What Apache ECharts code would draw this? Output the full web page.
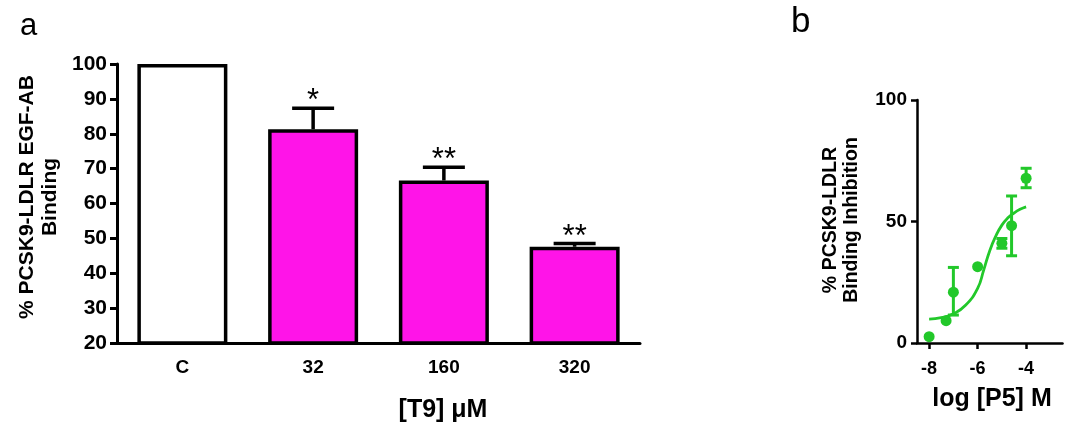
<!DOCTYPE html>
<html>
<head>
<meta charset="utf-8">
<script src="https://cdn.jsdelivr.net/npm/echarts@6/dist/echarts.min.js"></script>
<style>
html,body{margin:0;padding:0;background:#fff;}
#c{width:1072px;height:429px;}
</style>
</head>
<body>
<div id="c"></div>
<script>
// Panel a data
const categories = ['C', '32', '160', '320'];
const bindingValues = [100, 81.3, 66.6, 47.6];
const bindingUpper = [null, 87.3, 70.4, 48.5];
const sigLabels = ['', '*', '**', '**'];
const yTicksA = [20, 100, 10]; // min, max, interval

// Panel b data
const logConc = [-8, -7.3, -7, -6, -5, -4.6, -4];
const inhibition = [2.6, 9.2, 20.9, 31.4, 41.0, 48.3, 67.8];
const inhibLow = [2.6, 9.2, 11.5, 31.4, 39.0, 35.9, 63.9];
const inhibHigh = [2.6, 9.2, 31.1, 31.4, 43.0, 60.5, 71.9];
const curveX = [-8, -7.5, -7, -6.5, -6, -5.75, -5.5, -5.25, -5, -4.75, -4.5, -4.25, -4];
const curveY = [9.8, 10.4, 12, 15.5, 22.5, 30, 38, 44, 48.5, 51.5, 53.5, 55, 56];
const xTicksB = [-8, -6, -4];

const FONT = 'Liberation Sans, Arial, sans-serif';
const magenta = '#ff14e8';
const green = '#22c82a';

const chart = echarts.init(document.getElementById('c'), null, {renderer: 'canvas'});

const option = {
  backgroundColor: '#fff',
  animation: false,
  grid: [
    {left: 117, top: 64, width: 523, height: 279, outerBoundsMode: 'none', containLabel: false},
    {left: 917, top: 100, width: 145.5, height: 243, outerBoundsMode: 'none', containLabel: false}
  ],
  xAxis: [
    {
      type: 'category', gridIndex: 0, data: categories,
      axisLine: {lineStyle: {color: '#000', width: 3}},
      axisTick: {alignWithLabel: true, length: 7, lineStyle: {color: '#000', width: 3}},
      axisLabel: {color: '#000', fontFamily: FONT, fontWeight: 'bold', fontSize: 19, margin: 15},
      splitLine: {show: false}
    },
    {
      type: 'value', gridIndex: 1, min: -8.5, max: -2.5,
      axisLine: {onZero: false, lineStyle: {color: '#000', width: 2.5}},
      axisTick: {customValues: xTicksB, length: 6, lineStyle: {color: '#000', width: 2.5}},
      axisLabel: {customValues: xTicksB, color: '#000', fontFamily: FONT, fontWeight: 'bold', fontSize: 18, margin: 17},
      splitLine: {show: false}
    }
  ],
  yAxis: [
    {
      type: 'value', gridIndex: 0, min: yTicksA[0], max: yTicksA[1], interval: yTicksA[2],
      axisLine: {show: true, lineStyle: {color: '#000', width: 3}},
      axisTick: {show: true, length: 7, lineStyle: {color: '#000', width: 3}},
      axisLabel: {color: '#000', fontFamily: FONT, fontWeight: 'bold', fontSize: 21, margin: 10},
      splitLine: {show: false}
    },
    {
      type: 'value', gridIndex: 1, min: 0, max: 100, interval: 50,
      axisLine: {show: true, onZero: false, lineStyle: {color: '#000', width: 2.5}},
      axisTick: {show: true, length: 6, lineStyle: {color: '#000', width: 2.5}},
      axisLabel: {color: '#000', fontFamily: FONT, fontWeight: 'bold', fontSize: 19, margin: 10},
      splitLine: {show: false}
    }
  ],
  series: [
    {
      type: 'bar', xAxisIndex: 0, yAxisIndex: 0, barWidth: 90,
      data: bindingValues.map((v, i) => ({
        value: v,
        itemStyle: {color: i === 0 ? '#fff' : magenta, borderColor: '#000', borderWidth: 3.5}
      })),
      z: 2
    },
    {
      type: 'custom', xAxisIndex: 0, yAxisIndex: 0, z: 3,
      data: bindingValues.map((v, i) => [i, v, bindingUpper[i] == null ? v : bindingUpper[i]]),
      renderItem: function (params, api) {
        const i = api.value(0);
        const top = api.coord([i, api.value(1)]);
        const up = api.coord([i, api.value(2)]);
        const label = sigLabels[i];
        const children = [];
        if (up[1] < top[1] - 0.5) {
          children.push({type: 'line', shape: {x1: top[0], y1: top[1], x2: up[0], y2: up[1]}, style: {stroke: '#000', lineWidth: 3.5}});
        }
        if (bindingUpper[i] != null) {
          children.push({type: 'line', shape: {x1: up[0] - 21, y1: up[1], x2: up[0] + 21, y2: up[1]}, style: {stroke: '#000', lineWidth: 3.5}});
        }
        if (label) {
          children.push({type: 'text', style: {text: label, x: up[0], y: up[1] + 9, align: 'center', verticalAlign: 'bottom', fontFamily: FONT, fontSize: 31, fill: '#000'}});
        }
        return {type: 'group', children: children};
      }
    },
    {
      type: 'line', xAxisIndex: 1, yAxisIndex: 1, smooth: true, showSymbol: false, symbol: 'none',
      data: curveX.map((x, i) => [x, curveY[i]]),
      lineStyle: {color: green, width: 2.8}, z: 2
    },
    {
      type: 'custom', xAxisIndex: 1, yAxisIndex: 1, z: 3,
      data: logConc.map((x, i) => [x, inhibition[i], inhibLow[i], inhibHigh[i]]),
      renderItem: function (params, api) {
        const c = api.coord([api.value(0), api.value(1)]);
        const lo = api.coord([api.value(0), api.value(2)]);
        const hi = api.coord([api.value(0), api.value(3)]);
        const children = [];
        if (lo[1] - hi[1] > 1) {
          const st = {stroke: green, lineWidth: 3};
          children.push({type: 'line', shape: {x1: c[0], y1: lo[1], x2: c[0], y2: hi[1]}, style: st});
          children.push({type: 'line', shape: {x1: c[0] - 5.5, y1: lo[1], x2: c[0] + 5.5, y2: lo[1]}, style: st});
          children.push({type: 'line', shape: {x1: c[0] - 5.5, y1: hi[1], x2: c[0] + 5.5, y2: hi[1]}, style: st});
        }
        children.push({type: 'circle', shape: {cx: c[0], cy: c[1], r: 5.5}, style: {fill: green}});
        return {type: 'group', children: children};
      }
    }
  ],
  graphic: [
    {type: 'text', left: 20, top: 11, style: {text: 'a', fontFamily: FONT, fontSize: 31, fill: '#000'}},
    {type: 'text', left: 791, top: 5, style: {text: 'b', fontFamily: FONT, fontSize: 35, fill: '#000'}},
    {type: 'text', x: 27, y: 197, rotation: Math.PI / 2,
      style: {text: '% PCSK9-LDLR EGF-AB', align: 'center', verticalAlign: 'middle', fontFamily: FONT, fontWeight: 'bold', fontSize: 21, fill: '#000'}},
    {type: 'text', x: 50, y: 197, rotation: Math.PI / 2,
      style: {text: 'Binding', align: 'center', verticalAlign: 'middle', fontFamily: FONT, fontWeight: 'bold', fontSize: 21, fill: '#000'}},
    {type: 'text', x: 443, y: 410,
      style: {text: '[T9] μM', align: 'center', verticalAlign: 'middle', fontFamily: FONT, fontWeight: 'bold', fontSize: 25, fill: '#000'}},
    {type: 'text', x: 831, y: 220, rotation: Math.PI / 2,
      style: {text: '% PCSK9-LDLR', align: 'center', verticalAlign: 'middle', fontFamily: FONT, fontWeight: 'bold', fontSize: 19.5, fill: '#000'}},
    {type: 'text', x: 852, y: 220, rotation: Math.PI / 2,
      style: {text: 'Binding Inhibition', align: 'center', verticalAlign: 'middle', fontFamily: FONT, fontWeight: 'bold', fontSize: 19.5, fill: '#000'}},
    {type: 'text', x: 992, y: 399,
      style: {text: 'log [P5] M', align: 'center', verticalAlign: 'middle', fontFamily: FONT, fontWeight: 'bold', fontSize: 25, fill: '#000'}}
  ]
};
chart.setOption(option);
</script>
</body>
</html>
